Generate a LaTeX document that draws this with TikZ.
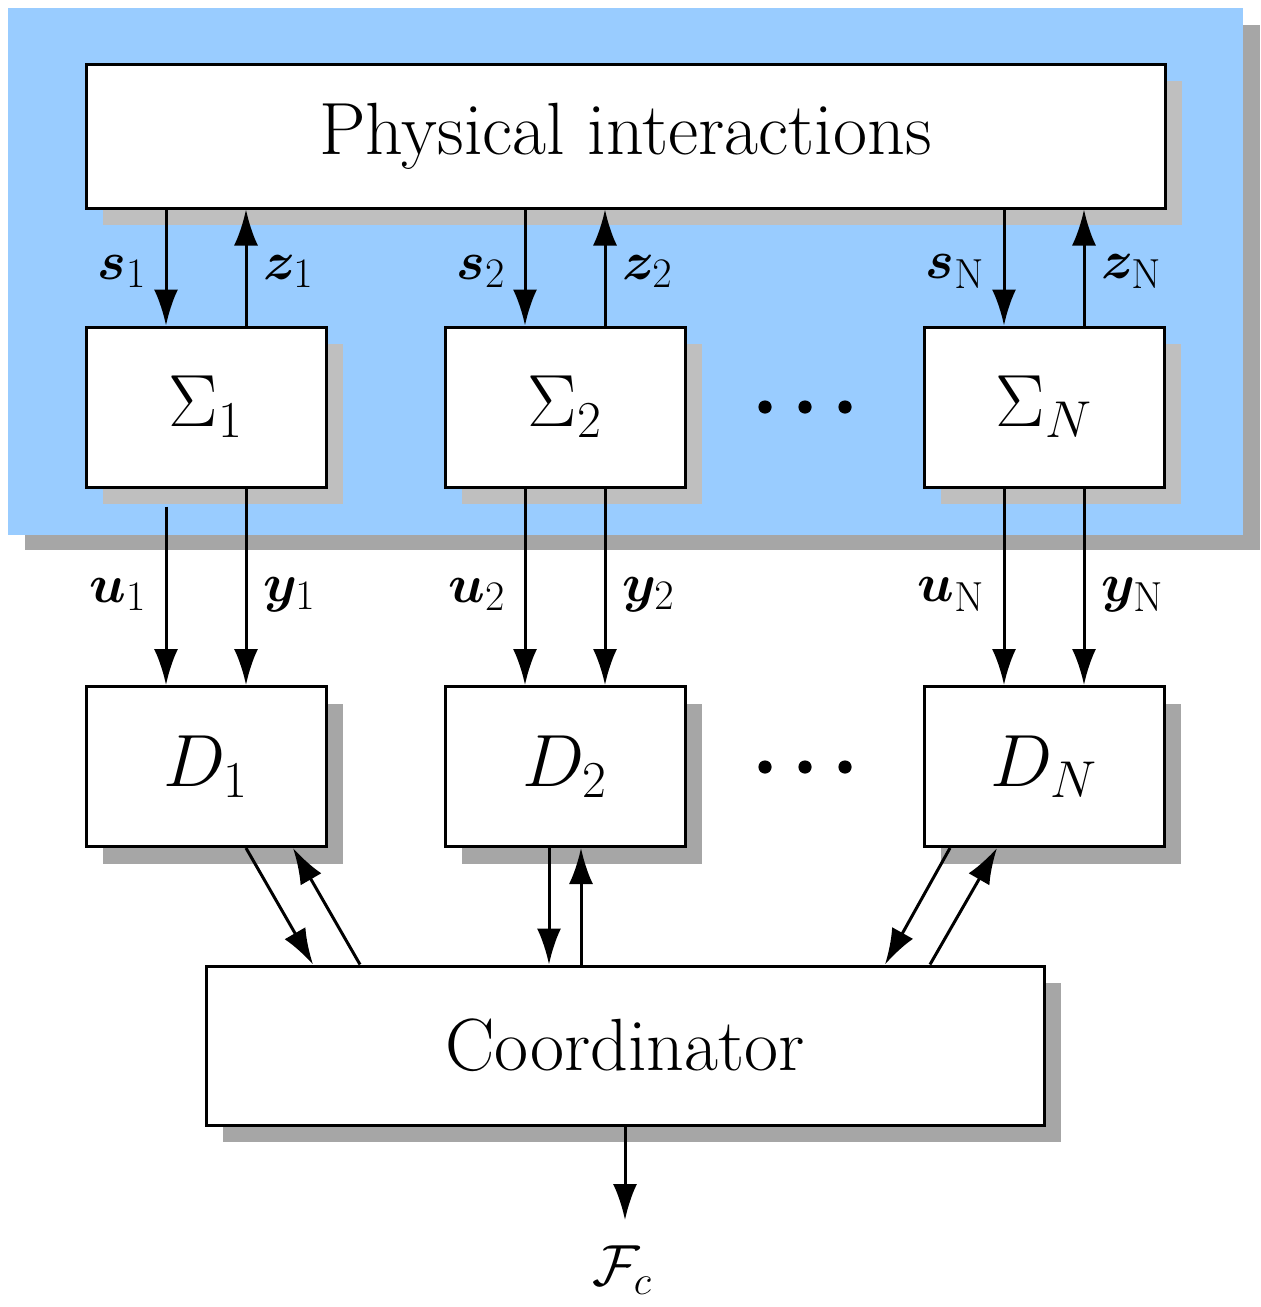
\RequirePackage{fix-cm}
\documentclass[tikz,border=0pt]{standalone}
\usepackage{amsmath,amssymb,bm}
\usetikzlibrary{arrows.meta,shadows,calc}
\DeclareMathSizes{27}{27}{21}{16}
\definecolor{bgblue}{RGB}{153,204,255}
\definecolor{shlight}{RGB}{191,191,191}
\definecolor{shdark}{RGB}{166,166,166}
\begin{document}
\begin{tikzpicture}[x=0.5pt,y=-0.5pt,
  box/.style={draw=black,fill=white,line width=1.5pt,rectangle,inner sep=0pt,
    font=\fontsize{37}{44}\selectfont},
  shA/.style={drop shadow={shadow xshift=8.5pt,shadow yshift=-8.5pt,fill=shlight,opacity=1}},
  shB/.style={drop shadow={shadow xshift=8.5pt,shadow yshift=-8.5pt,fill=shdark,opacity=1}},
  sigbox/.style={box,shA,minimum width=120pt,minimum height=80pt},
  dbox/.style={box,shB,minimum width=120pt,minimum height=80pt},
  arr/.style={line width=1.5pt,-{Latex[length=18pt,width=12pt]}},
  lbl/.style={font=\fontsize{27}{32}\selectfont,inner sep=0pt}]
\useasboundingbox (0,0) rectangle (1261,1307);
% blue background with shadow
\fill[shdark] (25,25) rectangle (1260,550);
\fill[bgblue] (8,8) rectangle (1243,535);
% nodes
\node[box,shA,minimum width=539.5pt,minimum height=72pt] (P) at (625.5,136) {Physical interactions};
\node[sigbox] (S1) at (206,407) {$\Sigma_1$};
\node[sigbox] (S2) at (565,407) {$\Sigma_2$};
\node[sigbox] (SN) at (1044,407) {$\Sigma_N$};
\node[dbox] (D1) at (206,766.5) {$D_1$};
\node[dbox] (D2) at (565,766.5) {$D_2$};
\node[dbox] (DN) at (1044,766.5) {$D_N$};
\node[box,shB,minimum width=419pt,minimum height=79.5pt] (C) at (625,1045.5) {Coordinator};
\coordinate (fcend) at (625,1220);
\node[inner sep=0pt,font=\fontsize{29}{35}\selectfont] (Fc) at (622,1270) {$\mathcal{F}_c$};
% dots
\foreach \xx in {765,805,845} {
  \fill (\xx,407) circle (3.3pt);
  \fill (\xx,767) circle (3.3pt);
}
% physical <-> Sigma
\foreach \s/\a/\b in {S1/1/1,S2/2/2,SN/N/\mathrm{N}} {
  \draw[arr] ([xshift=-20pt]\s.north |- P.south) -- ([xshift=-20pt]\s.north)
     node[midway,lbl,left=9pt,yshift=-2pt] {$\bm{s}_{\b}$};
  \draw[arr] ([xshift=20pt]\s.north) -- ([xshift=20pt]\s.north |- P.south)
     node[midway,lbl,right=8pt,yshift=-2pt] {$\bm{z}_{\b}$};
}
% Sigma -> D
\draw[arr,shorten <=9pt] ([xshift=-20pt]S1.south) -- ([xshift=-20pt]D1.north)
   node[midway,lbl,left=9pt,yshift=-4pt] {$\bm{u}_{1}$};
\draw[arr] ([xshift=20pt]S1.south) -- ([xshift=20pt]D1.north)
   node[midway,lbl,right=8pt,yshift=-4pt] {$\bm{y}_{1}$};
\draw[arr] ([xshift=-20pt]S2.south) -- ([xshift=-20pt]D2.north)
   node[midway,lbl,left=9pt,yshift=-4pt] {$\bm{u}_{2}$};
\draw[arr] ([xshift=20pt]S2.south) -- ([xshift=20pt]D2.north)
   node[midway,lbl,right=8pt,yshift=-4pt] {$\bm{y}_{2}$};
\draw[arr] ([xshift=-20pt]SN.south) -- ([xshift=-20pt]DN.north)
   node[midway,lbl,left=9pt,yshift=-4pt] {$\bm{u}_{\mathrm{N}}$};
\draw[arr] ([xshift=20pt]SN.south) -- ([xshift=20pt]DN.north)
   node[midway,lbl,right=8pt,yshift=-4pt] {$\bm{y}_{\mathrm{N}}$};
% D <-> Coordinator
\draw[arr] ([xshift=20pt]D1.south) -- ([xshift=-156pt]C.north);
\draw[arr] ([xshift=-132.5pt]C.north) -- ([xshift=43.5pt]D1.south);
\draw[arr] ([xshift=-8pt]D2.south) -- ([xshift=-38pt]C.north);
\draw[arr] ([xshift=-22pt]C.north) -- ([xshift=8pt]D2.south);
\draw[arr] ([xshift=-47pt]DN.south) -- ([xshift=130pt]C.north);
\draw[arr] ([xshift=152.5pt]C.north) -- ([xshift=-23.5pt]DN.south);
% Coordinator output
\draw[arr] (C.south) -- (fcend);
\end{tikzpicture}
\end{document}
